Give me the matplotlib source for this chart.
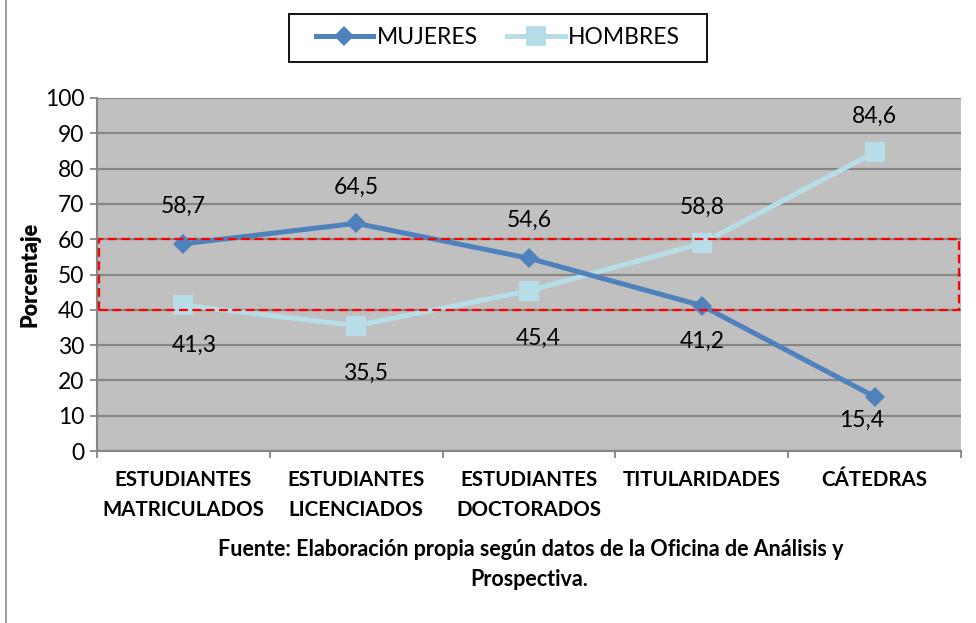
import matplotlib
matplotlib.use("Agg")
import matplotlib.pyplot as plt
from matplotlib.patches import Rectangle
from matplotlib.lines import Line2D
import numpy as np

plt.rcParams['font.family'] = ['Lato', 'DejaVu Sans']

categorias = ['ESTUDIANTES\nMATRICULADOS', 'ESTUDIANTES\nLICENCIADOS',
              'ESTUDIANTES\nDOCTORADOS', 'TITULARIDADES', 'CÁTEDRAS']
mujeres = [58.7, 64.5, 54.6, 41.2, 15.4]
hombres = [41.3, 35.5, 45.4, 58.8, 84.6]
yticks = [0, 10, 20, 30, 40, 50, 60, 70, 80, 90, 100]

# label offsets (points) so the numbers sit clear of the lines
off_muj = [(0, 27), (0, 26), (0, 27), (0, -26), (-9, -17)]
off_hom = [(8, -29), (7, -34), (7, -34), (0, 26), (0, 26)]

c_muj = '#4F81BD'
c_hom = '#B7DEE8'
gris = '#868686'

fig = plt.figure(figsize=(9.76, 6.23), dpi=100)
ax = fig.add_axes([97/976, 1-451/623, 864/976, 353/623])
ax.set_facecolor('#C0C0C0')

x = np.arange(len(categorias))
ax.plot(x, mujeres, color=c_muj, lw=3.6, marker='D', ms=10, mew=0, zorder=4)
ax.plot(x, hombres, color=c_hom, lw=3.6, marker='s', ms=14, mew=0, zorder=3)

for xi, v, o in zip(x, mujeres, off_muj):
    ax.annotate(f'{v:.1f}'.replace('.', ','), (xi, v), xytext=o,
                textcoords='offset points', ha='center', va='center',
                fontsize=16.5, zorder=6)
for xi, v, o in zip(x, hombres, off_hom):
    ax.annotate(f'{v:.1f}'.replace('.', ','), (xi, v), xytext=o,
                textcoords='offset points', ha='center', va='center',
                fontsize=16.5, zorder=6)

# highlighted 40-60 band
ax.add_patch(Rectangle((-0.49, 40), 4.98, 20, fill=False, ec='#FF0000',
                       lw=1.6, ls=(0, (4, 2)), zorder=5))

ax.set_xlim(-0.5, 4.5)
ax.set_ylim(0, 100)
ax.set_yticks(yticks)
ax.tick_params(axis='y', labelsize=16.5, length=5, width=1.3, color=gris, pad=4)
ax.yaxis.grid(True, color=gris, lw=1.6)
ax.set_axisbelow(True)

ax.set_xticks(x)
ax.set_xticklabels(categorias, fontsize=14.8, fontweight='bold', linespacing=1.6)
ax.tick_params(axis='x', length=0, pad=14)
ax.set_xticks(np.arange(-0.5, 5, 1), minor=True)
ax.tick_params(axis='x', which='minor', length=5, width=1.3, color=gris)

for s in ['top', 'right']:
    ax.spines[s].set_visible(False)
for s in ['left', 'bottom']:
    ax.spines[s].set_color(gris)
    ax.spines[s].set_linewidth(1.5)

ax.set_ylabel('Porcentaje', fontsize=15.5, fontweight='heavy', labelpad=3)

# legend in its own black box
fig.patches.append(Rectangle((289/976, 1-62/623), 418/976, 48/623,
                             transform=fig.transFigure, fill=False,
                             ec='black', lw=1.3))
h1 = Line2D([], [], color=c_muj, lw=3.6, marker='D', ms=10, mew=0)
h2 = Line2D([], [], color=c_hom, lw=3.6, marker='s', ms=14, mew=0)
fig.legend([h1, h2], ['MUJERES', 'HOMBRES'], loc='center',
           bbox_to_anchor=(498/976, 1-38/623), ncol=2, frameon=False,
           fontsize=16.5, handlelength=2.5, handletextpad=0.15,
           columnspacing=1.3)

fig.text(531/976, 1-550/623,
         'Fuente: Elaboración propia según datos de la Oficina de Análisis y',
         ha='center', va='center', fontsize=15.5, fontweight='bold')
fig.text(529/976, 1-580/623, 'Prospectiva.', ha='center', va='center',
         fontsize=15.5, fontweight='bold')

fig.add_artist(Line2D([6/976, 6/976], [0, 1], transform=fig.transFigure,
                      color='#8C8C8C', lw=1.2))

fig.savefig('out.png', dpi=100)
